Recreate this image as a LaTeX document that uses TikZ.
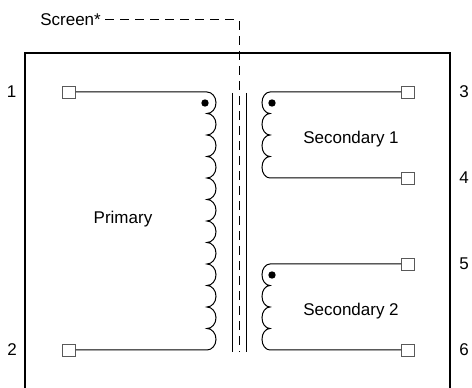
\documentclass[tikz,border=0pt]{standalone}
\usepackage{fontspec}
\setmainfont{Liberation Sans}
\begin{document}
\begin{tikzpicture}[x=1pt,y=1pt,
    wire/.style={line width=1pt},
    term/.style={draw=black!65, fill=white, line width=0.9pt, minimum width=13pt, minimum height=12pt, inner sep=0pt},
    lbl/.style={font=\fontsize{17}{20}\selectfont, inner sep=0pt},
    screen/.style={line width=1pt, dash pattern=on 9pt off 6pt}]
    \useasboundingbox (0,0) rectangle (472,388);

    % Case
    \draw[line width=1.4pt] (25,0) -- (25,335) -- (450,335) -- (450,0);

    % Terminals
    \node[term] (t1) at (69,296) {};
    \node[term] (t2) at (69,38) {};
    \node[term] (t3) at (408,296) {};
    \node[term] (t4) at (408,210) {};
    \node[term] (t5) at (408,124) {};
    \node[term] (t6) at (408,38) {};
    \node[lbl] (n1) at (11.5,296) {1};
    \node[lbl] (n2) at (12,38) {2};
    \node[lbl] (n3) at (464,296) {3};
    \node[lbl] (n4) at (464,210) {4};
    \node[lbl] (n5) at (464,124) {5};
    \node[lbl] (n6) at (464,38) {6};

    % Primary winding
    \coordinate (pa) at (207,296);
    \draw[wire] (t1.east) -- (pa)
        \foreach \i in {1,...,12} {arc[start angle=90, end angle=-90, x radius=9, y radius=10.75]}
        -- (t2.east);
    \fill (205,285) circle (3.7);
    \node[lbl] (prim) at (123,169) {Primary};

    % Secondary windings
    \coordinate (sa) at (270,296);
    \draw[wire] (t3.west) -- (sa)
        \foreach \i in {1,...,4} {arc[start angle=90, end angle=270, x radius=8, y radius=10.75]}
        -- (t4.west);
    \fill (272,285) circle (3.7);
    \node[lbl] (sec1) at (351,249) {Secondary 1};

    \coordinate (sb) at (270,124);
    \draw[wire] (t5.west) -- (sb)
        \foreach \i in {1,...,4} {arc[start angle=90, end angle=270, x radius=8, y radius=10.75]}
        -- (t6.west);
    \fill (272,113) circle (3.7);
    \node[lbl] (sec2) at (351,77) {Secondary 2};

    % Core and screen
    \draw[wire] (232,295) -- (232,36);
    \draw[wire] (246,295) -- (246,36);
    \node[lbl, anchor=east] (scr) at (101,368) {Screen*};
    \coordinate (sc) at (239,368);
    \coordinate (sd) at (239,36);
    \draw[screen] ([xshift=4pt]scr.east) -- (sc) -- (sd);
\end{tikzpicture}
\end{document}
